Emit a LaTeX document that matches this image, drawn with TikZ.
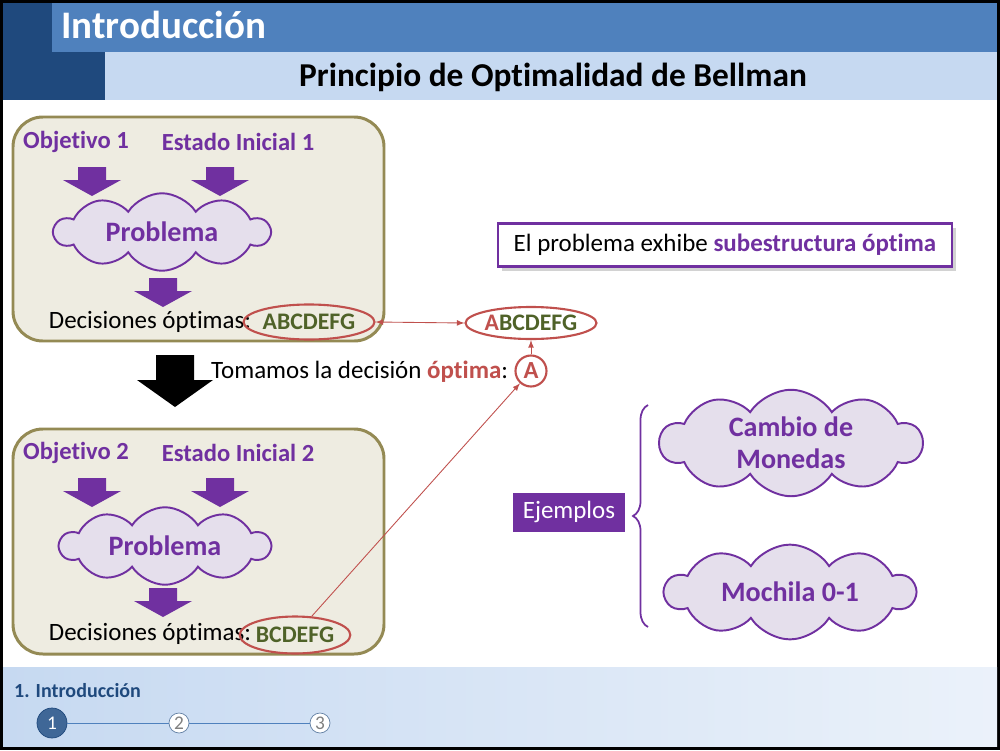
\documentclass[tikz,border=0pt]{standalone}
\usepackage{fontspec}
\setmainfont{Carlito}[Ligatures=NoCommon]
\usetikzlibrary{shapes.geometric,shapes.symbols,shadows,decorations.pathreplacing}

\definecolor{morado}{HTML}{7030A0}
\definecolor{lila}{HTML}{E5DFEC}
\definecolor{rojo}{HTML}{C0504D}
\definecolor{verde}{HTML}{4F6228}
\definecolor{caja}{HTML}{EEECE1}
\definecolor{oliva}{HTML}{948A54}
\definecolor{azul}{HTML}{4F81BD}
\definecolor{azulosc}{HTML}{1F497D}
\definecolor{azulcl}{HTML}{C6D9F1}

\tikzset{
  nube/.style={cloud, cloud puffs=10, cloud puff arc=115, aspect=3, draw=morado,
    line width=1.1pt, fill=lila, text=morado, inner sep=0pt, align=center,
    font=\fontsize{16}{18}\selectfont\bfseries},
  etiq/.style={text=morado, font=\fontsize{14}{16}\selectfont\bfseries},
  texto/.style={font=\fontsize{14.2}{16}\selectfont},
  marco/.style={draw=oliva, line width=1.7pt, fill=caja, rounded corners=17pt},
  ovalo/.style={ellipse, draw=rojo, line width=1.2pt, inner sep=0pt, text=verde,
    font=\fontsize{13.5}{15}\selectfont\bfseries},
  conn/.style={rojo, line width=0.5pt},
  paso/.style={circle, draw=azulosc!70, fill=white, text=gray, inner sep=0pt,
    minimum size=4mm, font=\fontsize{11}{12}\selectfont},
}

% flecha de bloque hacia abajo, (x,y) = centro del borde superior
\newcommand{\flecha}[2]{%
  \fill[morado] ({#1-14},#2) -- ({#1+14},#2) -- ({#1+14},{#2+13}) -- ({#1+29},{#2+13})
    -- (#1,{#2+29}) -- ({#1-29},{#2+13}) -- ({#1-14},{#2+13}) -- cycle;}

\begin{document}
\begin{tikzpicture}[x=0.2mm,y=-0.2mm]
\useasboundingbox (0,0) rectangle (1000,750);
% fondo y cabecera
\fill[black] (0,0) rectangle (1000,750);
\fill[white] (3,3) rectangle (997,746);
\fill[azul] (52,3) rectangle (997,52);
\fill[azulcl] (105,52) rectangle (997,100);
\fill[azulosc] (3,3) rectangle (52,52);
\fill[azulosc] (3,52) rectangle (105,100);
\node[anchor=west, text=white, font=\fontsize{22.2}{25}\selectfont\bfseries] (tit) at (55,25) {Introducción};
\node[font=\fontsize{19}{22}\selectfont\bfseries] (subtit) at (553,77) {Principio de Optimalidad de Bellman};

% primer problema
\draw[marco] (13,117) rectangle (384,341);
\node[etiq] (obj1) at (76,142) {Objetivo 1};
\node[etiq] (est1) at (238,142) {Estado Inicial 1};
\flecha{92}{167}
\flecha{220}{167}
\node[nube, minimum width=43mm, minimum height=14mm] (prob1) at (162,232) {Problema};
\flecha{163}{278}
\node[texto] (dec1) at (150,322) {Decisiones óptimas:};
\node[ovalo, minimum width=21.6mm, minimum height=7mm] (sol1) at (309,322) {ABCDEFG};

% decision tomada
\fill[black] (156,355) -- (194,355) -- (194,380) -- (213,380) -- (175,407) -- (137,380) -- (156,380) -- cycle;
\node[texto, anchor=west] (toma) at (205,372) {Tomamos la decisión \textcolor{rojo}{\bfseries óptima}:};
\node[circle, draw=rojo, line width=1.2pt, text=rojo, inner sep=0pt, minimum size=6.2mm,
  font=\fontsize{14}{15}\selectfont\bfseries] (decA) at (531,371) {A};
\node[ovalo, minimum width=23.6mm, minimum height=6.4mm] (sol) at (531,323) {\textcolor{rojo}{A}BCDEFG};

% segundo problema
\draw[marco] (13,429) rectangle (384,654);
\node[etiq] (obj2) at (76,453) {Objetivo 2};
\node[etiq] (est2) at (238,453) {Estado Inicial 2};
\flecha{92}{478}
\flecha{220}{478}
\node[nube, minimum width=42mm, minimum height=14.6mm] (prob2) at (165,546) {Problema};
\flecha{163}{588}
\node[texto] (dec2) at (150,634) {Decisiones óptimas:};
\node[ovalo, minimum width=19.4mm, minimum height=7.4mm] (sol2) at (295,635) {BCDEFG};

\draw[conn, latex-latex] (sol1.east) -- (sol.west);
\draw[conn, -latex] (decA) -- (sol);
\draw[conn, -latex] (sol2) -- (decA);

% subestructura y ejemplos
\node[texto, draw=morado, line width=1.4pt, fill=white, drop shadow={opacity=0.35},
  minimum width=90.8mm, minimum height=8.6mm] (subest) at (725,245)
  {El problema exhibe \textcolor{morado}{\bfseries subestructura óptima}};
\node[texto, fill=morado, text=white, minimum width=22.4mm, minimum height=7.8mm] (ejem) at (569,512) {Ejemplos};
\draw[morado, line width=1pt, decorate, decoration={brace, amplitude=3mm}] (648,627) -- (648,405);
\node[nube, minimum width=52.4mm, minimum height=15.4mm] (cambio) at (791,443) {Cambio de\\Monedas};
\node[nube, minimum width=50mm, minimum height=15mm] (mochila) at (790,592) {Mochila 0-1};

% pie
\shade[left color=azulcl, right color=azulcl!35] (3,667) rectangle (997,746);
\node[anchor=west, text=azulosc, font=\fontsize{11.4}{13}\selectfont\bfseries] (secc) at (8,691) {1. Introducción};
\node[paso, fill=azul!80!black, draw=azulosc, text=white, minimum size=6mm] (p1) at (52,723) {1};
\node[paso] (p2) at (179,723) {2};
\node[paso] (p3) at (320,723) {3};
\draw[azul] (p1) -- (p2);
\draw[azul] (p2) -- (p3);
\end{tikzpicture}
\end{document}
